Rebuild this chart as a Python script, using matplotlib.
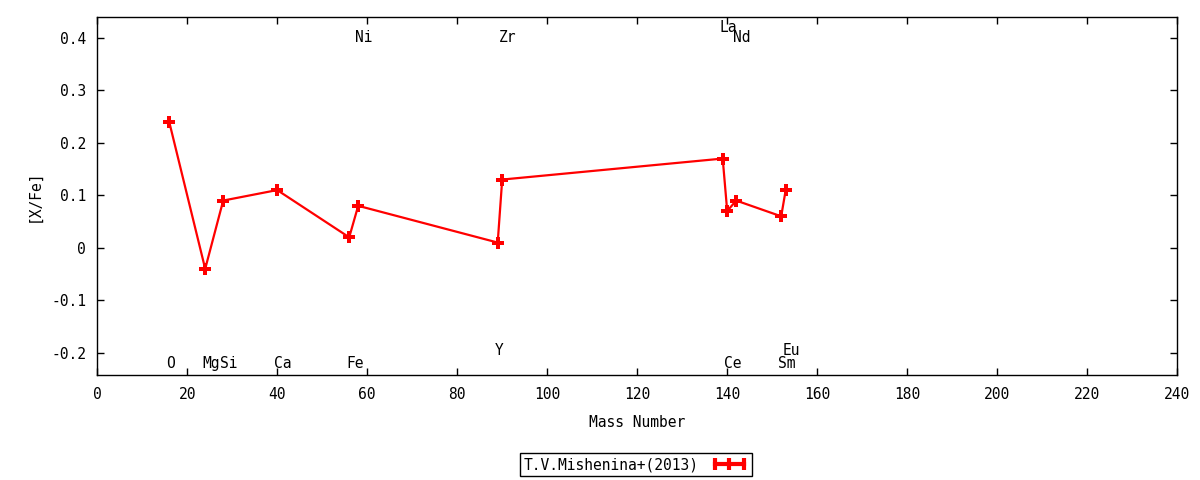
import matplotlib
matplotlib.use("Agg")
import matplotlib.pyplot as plt
from matplotlib.lines import Line2D

# T.V.Mishenina+(2013) abundances
mass = [16, 24, 28, 40, 56, 58, 89, 90, 139, 140, 142, 152, 153]
xfe = [0.24, -0.04, 0.09, 0.11, 0.02, 0.08, 0.01, 0.13, 0.17, 0.07, 0.09, 0.06, 0.11]

# element labels
elem = ["O", "Mg", "Si", "Ca", "Fe", "Ni", "Y", "Zr", "La", "Ce", "Nd", "Sm", "Eu"]
elem_y = [-0.22, -0.22, -0.22, -0.22, -0.22, 0.40, -0.195, 0.40, 0.42, -0.22, 0.40, -0.22, -0.195]

xticks = list(range(0, 241, 20))
yticks = [-0.2, -0.1, 0, 0.1, 0.2, 0.3, 0.4]
yticklabels = ["-0.2", "-0.1", "0", "0.1", "0.2", "0.3", "0.4"]

plt.rcParams["font.family"] = "DejaVu Sans Mono"
plt.rcParams["font.size"] = 10

fig = plt.figure(figsize=(12, 4.8), dpi=100)
ax = fig.add_axes([0.081, 0.219, 0.9, 0.746])

ax.plot(mass, xfe, color="red", lw=1.6, marker="P", markersize=8.5,
        markeredgewidth=0, label="T.V.Mishenina+(2013)")

for m, e, y in zip(mass, elem, elem_y):
    ax.text(m - 0.7, y, e, ha="left", va="center", fontsize=10.5)

ax.set_xlim(0, 240)
ax.set_ylim(-0.242, 0.44)
ax.set_xticks(xticks)
ax.set_yticks(yticks)
ax.set_yticklabels(yticklabels)
ax.tick_params(direction="in", top=True, right=True, length=5, width=1,
               labelsize=10.5)
ax.tick_params(axis="x", pad=9)
ax.tick_params(axis="y", pad=8)
for s in ax.spines.values():
    s.set_linewidth(1)
ax.set_xlabel("Mass Number", fontsize=10.5, labelpad=9)
ax.set_ylabel("[X/Fe]", fontsize=10.5, labelpad=7)

handle = Line2D([], [], color="red", lw=3, marker="|", markersize=9,
                markeredgewidth=3)
leg = fig.legend([handle], ["T.V.Mishenina+(2013)"], loc="center",
                 bbox_to_anchor=(0.53, 0.032), numpoints=3, markerfirst=False,
                 fancybox=False, framealpha=1, edgecolor="black",
                 borderpad=0.25, handlelength=2.6, fontsize=10.5)
leg.get_frame().set_linewidth(1)

fig.savefig("out.png", dpi=100)
